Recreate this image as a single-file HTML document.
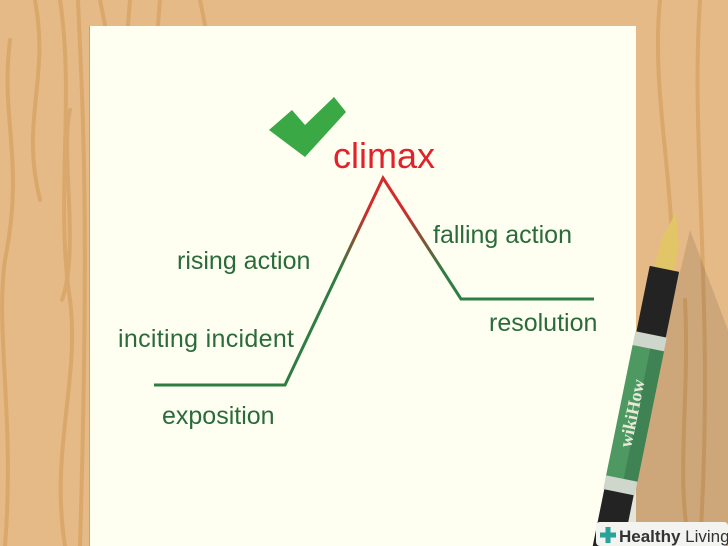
<!DOCTYPE html>
<html><head><meta charset="utf-8"><style>
body{margin:0;width:728px;height:546px;overflow:hidden;background:#e5ba87;font-family:"Liberation Sans",sans-serif}
svg{position:absolute;left:0;top:0}
</style></head><body>
<svg width="728" height="546" viewBox="0 0 728 546">
<defs><linearGradient id="g" x1="0" y1="1" x2="0" y2="0">
<stop offset="0.55" stop-color="#2f7d44"/><stop offset="0.85" stop-color="#d42a2a"/></linearGradient></defs>
<g fill="none" stroke="#daa86b" stroke-width="4" stroke-linecap="round">
<path d="M10 40 C0 120 25 160 5 260 C-5 330 15 420 5 546"/>
<path d="M35 0 C50 80 20 120 40 200"/>
<path d="M60 0 C75 100 55 200 70 300 C80 380 50 450 65 546"/>
<path d="M70 110 C60 150 80 250 62 300"/>
<path d="M78 0 C82 100 90 200 80 546"/>
<path d="M100 0 L105 25"/><path d="M130 0 L128 25"/><path d="M160 0 L158 25"/><path d="M200 0 L205 25"/>
<path d="M660 0 C650 100 680 200 670 300"/><path d="M700 0 C690 150 715 300 700 546"/>
<path d="M685 300 C690 400 675 480 690 546"/>
</g>
<rect x="90" y="26" width="546" height="520" fill="#fefef1"/>
<rect x="89" y="26" width="1" height="520" fill="#c99f6f"/>
<path d="M269 130 L292 110 L305 125 L334 97 L346 112 L305 157 Z" fill="#3aa844"/>
<polyline points="154,385 285,385 383,178 461,299 594,299" fill="none" stroke="url(#g)" stroke-width="3" stroke-linejoin="miter"/>
<g font-family="Liberation Sans, sans-serif" fill="#2b6b3b" font-size="25">
<text x="333" y="168" fill="#e0232a" font-size="36">climax</text>
<text x="177" y="269">rising action</text>
<text x="433" y="243">falling action</text>
<text x="118" y="347" textLength="176">inciting incident</text>
<text x="489" y="331">resolution</text>
<text x="162" y="424">exposition</text>
</g>
<polygon points="615,546 728,546 728,330 690,230" fill="#000" opacity="0.1"/>
<g transform="translate(676,212) rotate(11.5)">
<polygon points="0,0 -9,30 -10,60 10,60 9,30" fill="#e2c567"/>
<rect x="-15" y="58" width="30" height="70" fill="#232323"/>
<rect x="-16" y="125" width="32" height="14" fill="#cfd6cc"/>
<rect x="-16" y="139" width="32" height="134" fill="#4e9862"/>
<rect x="2" y="139" width="14" height="134" fill="#3f8253"/>
<rect x="-16" y="272" width="32" height="14" fill="#cfd6cc"/>
<rect x="-15" y="286" width="30" height="60" fill="#232323"/>
<text transform="translate(3,206) rotate(-90)" text-anchor="middle" fill="#e6ead8" font-family="Liberation Serif,serif" font-weight="bold" font-size="18">wikiHow</text>
</g>
<rect x="596" y="522" width="132" height="24" rx="4" fill="#f3f3f0"/>
<path d="M600 535 h16 M608 527 v16" stroke="#2aa29a" stroke-width="5"/>
<text x="619" y="542" font-size="17" fill="#333"><tspan font-weight="bold">Healthy</tspan> Living</text>
</svg>
</body></html>
